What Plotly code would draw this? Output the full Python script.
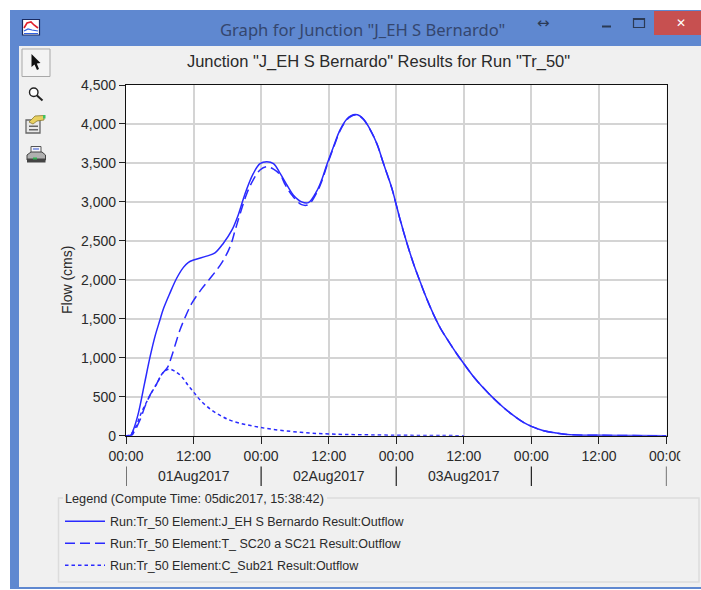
import plotly.graph_objects as go

W, H = 701, 590

# ---- data ------------------------------------------------------------------
main_hours = [0, 0.8, 1.3, 2.2, 3.25, 4.3, 5.15, 6.05, 6.6, 7.8, 9, 10.2, 11.1, 12, 14.3, 15.8, 17.3, 18.8,
              20, 21.1, 22.6, 23.8, 25, 26.2, 27.4, 28.6, 29.7, 31.2, 32.4, 33.9, 34.8, 35.7, 36.9, 38,
              39.2, 40, 40.7, 41.5, 42.2, 43.4, 44.6, 45.7, 47.2, 47.8, 48.7, 49.9, 51.1, 52.3, 53.4, 54.6, 55.8,
              57.3, 58.8, 60, 61.7, 63.2, 65.2, 67, 68.8, 70.6, 72, 74.2, 76.5, 78.9, 84, 90, 96]
main_flow = [0, 5, 75, 290, 655, 1020, 1275, 1490, 1620, 1830, 2020, 2160, 2225, 2255, 2304, 2346, 2470, 2637,
             2846, 3096, 3362, 3490, 3515, 3490, 3362, 3215, 3090, 3000, 2990, 3141, 3290, 3483, 3718, 3920,
             4060, 4105, 4120, 4105, 4060, 3925, 3740, 3500, 3180, 3020, 2770, 2470, 2200, 1965, 1760, 1560, 1385,
             1210, 1045, 925, 760, 635, 485, 365, 260, 170, 120, 64, 34, 13, 5, 1, 0]

reach_hours = [0, 1, 1.6, 2.5, 3.4, 4.3, 5.4, 6.3, 7.4, 8.1, 9.6, 10.7, 11.7, 13.5, 15.2, 17, 18.5, 19.4, 20.3,
               21.5, 22.6, 23.8, 25, 26.2, 27.4, 28.3, 29.5, 31.2, 32.4, 33.9, 34.8, 35.7, 36.9, 38,
               39.2, 40, 40.7, 41.5, 42.2, 43.4, 44.6, 45.7, 47.2, 47.8, 48.7, 49.9, 51.1, 52.3, 53.4, 54.6, 55.8,
               57.3, 58.8, 60, 61.7, 63.2, 65.2, 67, 68.8, 70.6, 72, 74.2, 76.5, 78.9, 84, 90, 96]
reach_flow = [0, 5, 70, 205, 380, 526, 660, 782, 880, 1017, 1359, 1551, 1700, 1890, 2042, 2218, 2427, 2641, 2855,
              3115, 3282, 3410, 3453, 3420, 3346, 3218, 3085, 2965, 2965, 3120, 3272, 3468, 3705, 3910,
              4052, 4099, 4114, 4100, 4056, 3922, 3738, 3498, 3178, 3018, 2768, 2469, 2199, 1964, 1759, 1559, 1384,
              1210, 1045, 925, 760, 635, 485, 365, 260, 170, 120, 64, 34, 13, 5, 1, 0]

sub_hours = [0, 0.7, 1.6, 2.8, 4.3, 5.5, 6.7, 7.7, 8.6, 9.8, 11, 12, 13.3, 15.2, 17, 18.8, 24, 31, 36, 48, 56, 60]
sub_flow = [0, 8, 94, 306, 520, 670, 820, 855, 830, 765, 650, 560, 448, 330, 250, 190, 104, 43, 22, 6, 2, 0]

series_names = ["Run:Tr_50 Element:J_EH S Bernardo Result:Outflow",
                "Run:Tr_50 Element:T_ SC20 a SC21 Result:Outflow",
                "Run:Tr_50 Element:C_Sub21 Result:Outflow"]
x_tick_hours = [0, 12, 24, 36, 48, 60, 72, 84, 96]
x_tick_labels = ["00:00", "12:00"] * 4 + ["00:00"]
y_ticks = [0, 500, 1000, 1500, 2000, 2500, 3000, 3500, 4000, 4500]
day_hours = [0, 24, 48, 72, 96]
date_hours = [12, 36, 60]
date_labels = ["01Aug2017", "02Aug2017", "03Aug2017"]
legend_heading = "Legend (Compute Time: 05dic2017, 15:38:42)"

# ---- helpers ---------------------------------------------------------------
FONT = "Liberation Sans, Arial, sans-serif"
TXT = "#2A2A2A"
BLUE = "#2A2AFF"
PANEL = "#F0F0F0"
fx = lambda x: x / W
fy = lambda y: 1 - y / H


def rect(x0, y0, x1, y1, fill, line=None, lw=0, layer="below"):
    return dict(type="rect", xref="paper", yref="paper", x0=fx(x0), x1=fx(x1), y0=fy(y0), y1=fy(y1),
                fillcolor=fill, line=dict(color=line or fill, width=lw), layer=layer)


def poly(pts, fill=None, line=None, lw=1, close=True, layer="above"):
    d = "M" + " L".join(f"{fx(a):.5f},{fy(b):.5f}" for a, b in pts) + (" Z" if close else "")
    return dict(type="path", xref="paper", yref="paper", path=d,
                fillcolor=fill if fill else "rgba(0,0,0,0)",
                line=dict(color=line or "rgba(0,0,0,0)", width=lw), layer=layer)


def txt(x, y, s, size=12, color=TXT, family=FONT, anchor="center", angle=0):
    return dict(xref="paper", yref="paper", x=fx(x), y=fy(y), text=s, showarrow=False, xanchor=anchor,
                yanchor="middle", textangle=angle, font=dict(size=size, color=color, family=family))


PX0, PX1, PY0, PY1 = 126, 666.5, 85, 435.7

shapes = [
    rect(10, 10, W, 589, "#5F88D0"),
    rect(19, 46, W, 587, PANEL),
    rect(PX0, PY0, PX1, PY1, "#FFFFFF"),
    rect(654, 11, W, 35, "#C75050"),
    # minimise / maximise
    rect(602, 25.5, 611, 27.5, "#2B3A55"),
    rect(633.5, 18.5, 644.5, 27.5, "rgba(0,0,0,0)", "#2B3A55", 1.2),
    rect(633.5, 18, 644.5, 20, "#2B3A55"),
    # app icon
    rect(22.5, 19.5, 39.5, 35, "#FFFFFF", "#1A2A60", 1.2),
    poly([(24, 28), (27, 23), (31, 22), (34, 25), (38, 28)], None, "#E0202A", 1.6, False),
    poly([(24, 31), (28, 29), (32, 30), (38, 31)], None, "#3060E0", 1.2, False),
    poly([(24, 33.5), (38, 33.5)], None, "#3060E0", 1, False),
    # selected tool button
    rect(22, 49, 50, 76.5, "#F4F4F4", "#A8A8A8", 1, "above"),
    # arrow tool
    poly([(31.5, 54), (31.5, 67), (34.5, 64.5), (37, 70), (39, 69), (36.8, 63.5), (40.5, 63)], "#111111"),
    # magnifier
    dict(type="circle", xref="paper", yref="paper", x0=fx(29.5), x1=fx(38), y0=fy(88), y1=fy(96.5),
         line=dict(color="#222222", width=1.4), fillcolor="#FFFFFF", layer="above"),
    poly([(37, 95.5), (42.5, 100.5)], None, "#222222", 2, False),
    # properties icon
    rect(26, 120, 40, 133, "#E8E8E8", "#666666", 1.3, "above"),
    rect(29, 125.5, 38, 127, "#666666", layer="above"),
    rect(29, 129, 38, 130.5, "#666666", layer="above"),
    poly([(29, 122), (35, 116), (44, 115.5), (44, 120), (37, 121), (33, 124)], "#E8D060", "#8A7A30", 0.8),
    rect(43, 115, 45.5, 118.5, "#40C060", layer="above"),
    # printer icon
    rect(31, 146.5, 41, 153, "#F4F4F8", "#555555", 1, "above"),
    poly([(33, 149), (39, 149)], None, "#3050D0", 1, False),
    poly([(27, 155), (31, 152), (42, 152), (45.5, 155), (45.5, 160), (27, 160)], "#B0B0B0", "#444444", 1),
    rect(27, 158.5, 45.5, 162.5, "#444444", layer="above"),
    rect(33, 157.5, 37, 159.5, "#30B050", layer="above"),
    # second row of the time axis
    *[dict(type="line", xref="x", yref="paper", x0=d, x1=d, y0=fy(466.5), y1=fy(486),
           line=dict(color="#222222", width=1.2)) for d in day_hours],
    # clipped last tick label
    rect(680.3, 445, 696, 463, PANEL, layer="above"),
    # legend frame, broken by its heading
    rect(58.5, 498, 699, 582, "rgba(0,0,0,0)", "#DCDCDC", 1.5),
    rect(63, 493, 327, 503, PANEL),
]

annotations = [
    txt(362, 29, "Graph for Junction \"J_EH S Bernardo\"", 16.6, "#34466E", "Noto Sans, Open Sans, sans-serif"),
    txt(543.5, 22.5, "\u2194", 15, "#2B3A55", "DejaVu Sans"),
    txt(681, 23, "\u2715", 12, "#FFFFFF", "DejaVu Sans"),
    txt(67, 280, "Flow (cms)", 14, TXT, angle=-90),
    txt(63, 499, legend_heading, 12.7, TXT, anchor="left"),
]
annotations += [dict(xref="x", yref="paper", x=h, y=fy(476), text=s, showarrow=False, xanchor="center",
                     yanchor="middle", font=dict(size=14, color=TXT, family=FONT))
                for h, s in zip(date_hours, date_labels)]

fig = go.Figure()
styles = [("solid", main_hours, main_flow), ("10px,5px", reach_hours, reach_flow), ("3.5px,3px", sub_hours, sub_flow)]
for i, (name, (dash, xs, ys)) in enumerate(zip(series_names, styles)):
    fig.add_trace(go.Scatter(x=xs, y=ys, mode="lines", name=name, legendgroup=f"g{i}",
                             line=dict(color=BLUE, width=1.5, dash=dash, shape="spline", smoothing=1.0),
                             cliponaxis=True))

fig.update_layout(
    width=W, height=H, autosize=False,
    margin=dict(l=0, r=0, t=0, b=0, pad=0, autoexpand=False),
    paper_bgcolor="#FFFFFF", plot_bgcolor="rgba(0,0,0,0)",
    font=dict(family=FONT, color=TXT, size=12),
    title=dict(text="Junction \"J_EH S Bernardo\" Results for Run \"Tr_50\"", x=fx(378.5), xanchor="center",
               y=fy(61), yanchor="middle", font=dict(size=16.5, color=TXT, family=FONT)),
    xaxis=dict(domain=[fx(PX0), fx(PX1)], range=[0, 96], tickmode="array", tickvals=x_tick_hours,
               ticktext=x_tick_labels, ticks="outside", ticklen=7, tickwidth=1, tickcolor="#222222",
               showgrid=True, gridcolor="#D4D4D4", gridwidth=1.5, zeroline=False,
               showline=True, mirror=True, linecolor="#111111", linewidth=1.2,
               tickfont=dict(size=14, color=TXT, family=FONT)),
    yaxis=dict(domain=[fy(PY1), fy(PY0)], range=[0, 4500], tickmode="array", tickvals=y_ticks,
               tickformat=",", ticks="outside", ticklen=6, tickwidth=1, tickcolor="#222222",
               showgrid=True, gridcolor="#D4D4D4", gridwidth=1.5, zeroline=False,
               showline=True, mirror=True, linecolor="#111111", linewidth=1.2,
               tickfont=dict(size=14, color=TXT, family=FONT)),
    showlegend=True,
    legend=dict(x=fx(60), xanchor="left", y=fy(506.5), yanchor="top", bgcolor="rgba(0,0,0,0)", borderwidth=0,
                itemwidth=40, tracegroupgap=2.8, traceorder="grouped", itemclick=False, itemdoubleclick=False,
                font=dict(size=12.5, color=TXT, family=FONT)),
    shapes=shapes,
    annotations=annotations,
)

fig.write_html("out.html", post_script="document.body.style.margin='0';document.body.style.overflow='hidden';",
               config=dict(displayModeBar=False))
